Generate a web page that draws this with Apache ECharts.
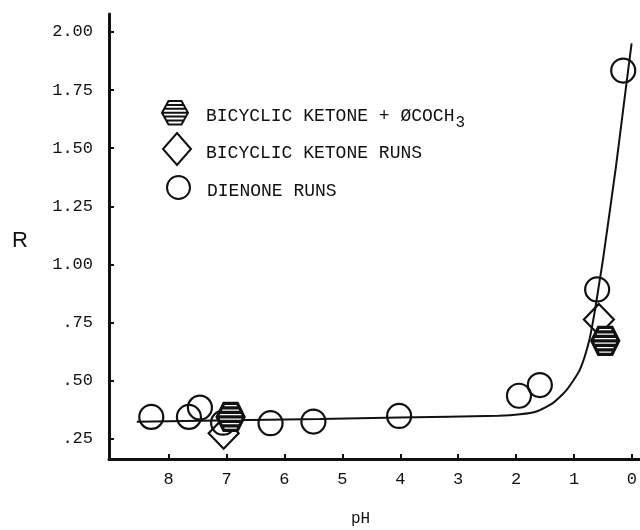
<!DOCTYPE html>
<html>
<head>
<meta charset="utf-8">
<script src="https://cdn.jsdelivr.net/npm/echarts@6/dist/echarts.min.js"></script>
<style>
html,body{margin:0;padding:0;background:#fff;}
#chart{width:640px;height:530px;}
</style>
</head>
<body>
<div id="chart"></div>
<script>
// ---- data ----
const xTicks = [0, 1, 2, 3, 4, 5, 6, 7, 8];
const yTicks = [0.25, 0.5, 0.75, 1.0, 1.25, 1.5, 1.75, 2.0];

const dienonePH = [8.30, 7.65, 7.46, 7.06, 6.24, 5.50, 4.02, 1.95, 1.59, 0.60, 0.15];
const dienoneR  = [0.345, 0.345, 0.385, 0.32, 0.318, 0.325, 0.349, 0.436, 0.482, 0.893, 1.834];

const ketoneRunsPH = [7.05, 0.57];
const ketoneRunsR  = [0.275, 0.764];

const ketonePlusPH = [6.93, 0.46];
const ketonePlusR  = [0.345, 0.672];

const fitPH = [8.55, 5.39, 4.02, 2.3, 1.93, 1.65, 1.36, 1.13, 0.90, 0.74, 0.64, 0.57, 0.50, 0.276, 0.13, 0.005];
const fitR  = [0.324, 0.336, 0.342, 0.350, 0.356, 0.368, 0.405, 0.46, 0.547, 0.67, 0.80, 0.91, 1.02, 1.42, 1.707, 1.951];

const nameKP = 'BICYCLIC KETONE + ØCOCH3';
const nameKR = 'BICYCLIC KETONE RUNS';
const nameD  = 'DIENONE RUNS';

// ---- chart ----
const zip = (a, b) => a.map((v, i) => [v, b[i]]);
const mono = '"Liberation Mono", "DejaVu Sans Mono", monospace';
const ink = '#111';

const hexPath = 'path://M0,10 L5,1 L15,1 L20,10 L15,19 L5,19 Z ' +
  'M3.33,4 L16.67,4 M1.67,7 L18.33,7 M0,10 L20,10 M1.67,13 L18.33,13 M3.33,16 L16.67,16';

const chart = echarts.init(document.getElementById('chart'), null, {renderer: 'canvas'});

const legendText = {
  fontFamily: mono, fontSize: 18, color: ink,
  padding: [8, 0, 0, 13],
  rich: { s: { fontFamily: mono, fontSize: 16, color: ink, padding: [12, 0, 0, 1] } }
};

chart.setOption({
  animation: false,
  backgroundColor: '#fff',
  grid: { left: 109, right: 0, top: 14, bottom: 71 },
  xAxis: {
    type: 'value', inverse: true, min: -0.14, max: 9.03,
    axisLine: { onZero: false, lineStyle: { color: ink, width: 3 } },
    axisTick: { customValues: xTicks, inside: true, length: 5, lineStyle: { color: ink, width: 2 } },
    axisLabel: { customValues: xTicks, margin: 12, fontFamily: mono, fontSize: 17, color: ink,
                 formatter: v => String(Math.round(v)) },
    splitLine: { show: false }
  },
  yAxis: {
    type: 'value', min: 0.164, max: 2.077,
    axisLine: { show: true, onZero: false, lineStyle: { color: ink, width: 3 } },
    axisTick: { show: true, customValues: yTicks, inside: true, length: 5, lineStyle: { color: ink, width: 2 } },
    axisLabel: { customValues: yTicks, margin: 16, fontFamily: mono, fontSize: 17, color: ink,
                 formatter: v => { const s = v.toFixed(2); return v < 1 ? s.slice(1) : s; } },
    splitLine: { show: false }
  },
  legend: [
    { data: [nameKP], left: 156, top: 95, itemWidth: 26, itemHeight: 27, selectedMode: false,
      formatter: n => 'BICYCLIC KETONE + ØCOCH{s|3}', textStyle: legendText },
    { data: [nameKR], left: 157, top: 127, itemWidth: 28, itemHeight: 32, selectedMode: false,
      textStyle: Object.assign({}, legendText, { padding: [8, 0, 0, 10] }) },
    { data: [nameD], left: 161, top: 170, itemWidth: 23, itemHeight: 23, selectedMode: false,
      textStyle: Object.assign({}, legendText, { padding: [8, 0, 0, 12] }) }
  ],
  graphic: [
    { type: 'text', left: 12, top: 230, style: { text: 'R', fontFamily: '"Liberation Sans", Arial, sans-serif', fontSize: 22, fill: ink } },
    { type: 'text', left: 351, top: 511, style: { text: 'pH', fontFamily: mono, fontSize: 16, fill: ink } }
  ],
  series: [
    {
      name: 'fit', type: 'line', data: zip(fitPH, fitR), showSymbol: false, smooth: 0.2,
      lineStyle: { color: ink, width: 2 }, z: 1, silent: true
    },
    {
      name: nameD, type: 'scatter', data: zip(dienonePH, dienoneR), symbol: 'circle', symbolSize: 24,
      itemStyle: { color: 'rgba(0,0,0,0)', borderColor: ink, borderWidth: 2.2, opacity: 1 }, z: 2
    },
    {
      name: nameKR, type: 'scatter', data: zip(ketoneRunsPH, ketoneRunsR), symbol: 'diamond', symbolSize: [30, 31],
      itemStyle: { color: 'rgba(0,0,0,0)', borderColor: ink, borderWidth: 2.2, opacity: 1 }, z: 3
    },
    {
      name: nameKP, type: 'scatter', data: zip(ketonePlusPH, ketonePlusR), symbol: hexPath, symbolSize: [27, 27],
      itemStyle: { color: '#fff', borderColor: ink, borderWidth: 3.2, opacity: 1 }, z: 4
    }
  ]
});
</script>
</body>
</html>
